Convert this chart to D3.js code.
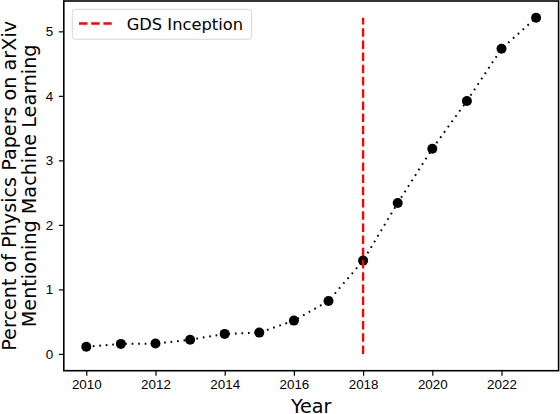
<!DOCTYPE html>
<html>
<head>
<meta charset="utf-8">
<script src="https://cdn.jsdelivr.net/npm/d3@7"></script>
<style>
  body { margin: 0; background: #fff; }
  svg { display: block; font-family: "DejaVu Sans", sans-serif; }
  .tick text { font-size: 13.4px; fill: #000; }
  .tick line { stroke: #000; stroke-width: 1.2; }
</style>
</head>
<body>
<script>
var w = 560;
var h = 414;

// values
var years = [2010, 2011, 2012, 2013, 2014, 2015, 2016, 2017, 2018, 2019, 2020, 2021, 2022, 2023];
var percent = [0.11, 0.155, 0.16, 0.22, 0.31, 0.33, 0.516, 0.82, 1.446, 2.34, 3.18, 3.92, 4.73, 5.21];
var inceptionYear = 2018;
var xTicks = [2010, 2012, 2014, 2016, 2018, 2020, 2022];
var yTicks = [0, 1, 2, 3, 4, 5];

var plot = { left: 63.8, right: 558.6, top: 1, bottom: 370.7 };

var svg = d3.select('body').append('svg')
            .attr('width', w)
            .attr('height', h);

// matplotlib style 5% margins
var xPad = (d3.max(years) - d3.min(years)) * 0.05;
var yMax = d3.max(percent);
var yPad = (yMax - 0) * 0.05;

var x = d3.scaleLinear()
          .domain([d3.min(years) - xPad, d3.max(years) + xPad])
          .range([plot.left, plot.right]);
var y = d3.scaleLinear()
          .domain([0 - yPad, yMax + yPad])
          .range([plot.bottom, plot.top]);

var xAxis = d3.axisBottom(x)
              .tickValues(xTicks)
              .tickFormat(d3.format('d'))
              .tickSize(5)
              .tickPadding(4);
var yAxis = d3.axisLeft(y)
              .tickValues(yTicks)
              .tickFormat(d3.format('d'))
              .tickSize(5)
              .tickPadding(5.5);

svg.append('g')
    .attr('transform', 'translate(0,' + plot.bottom + ')')
    .call(xAxis)
    .call(function(g){ g.select('.domain').remove(); })
    .selectAll('text').attr('font-family', null).attr('font-size', null);

svg.append('g')
    .attr('transform', 'translate(' + plot.left + ',0)')
    .call(yAxis)
    .call(function(g){ g.select('.domain').remove(); })
    .selectAll('text').attr('font-family', null).attr('font-size', null);

// data line + points
var pts = years.map(function(d, i){ return [d, percent[i]]; });
var line = d3.line()
             .x(function(d){ return x(d[0]); })
             .y(function(d){ return y(d[1]); });

svg.append('path')
    .datum(pts)
    .attr('d', line)
    .attr('fill', 'none')
    .attr('stroke', '#000')
    .attr('stroke-width', 2)
    .attr('stroke-dasharray', '1.7 4.8');

svg.selectAll('.pt')
    .data(pts)
    .enter()
      .append('circle')
      .classed('pt', true)
      .attr('cx', function(d){ return x(d[0]); })
      .attr('cy', function(d){ return y(d[1]); })
      .attr('r', 5)
      .attr('fill', '#000');

// inception line, drawn from bottom up so the dash starts at 0
svg.append('line')
    .attr('x1', x(inceptionYear))
    .attr('x2', x(inceptionYear))
    .attr('y1', y(0))
    .attr('y2', y(yMax))
    .attr('stroke', 'red')
    .attr('stroke-width', 2.3)
    .attr('stroke-dasharray', '8.5 3.7');

// spines
svg.append('rect')
    .attr('x', plot.left)
    .attr('y', plot.top)
    .attr('width', plot.right - plot.left)
    .attr('height', plot.bottom - plot.top)
    .attr('fill', 'none')
    .attr('stroke', '#000')
    .attr('stroke-width', 1.6);

// legend
var legend = svg.append('g');
legend.append('rect')
    .attr('x', 72.3)
    .attr('y', 9.3)
    .attr('width', 179.4)
    .attr('height', 30)
    .attr('rx', 3)
    .attr('fill', 'rgba(255,255,255,0.8)')
    .attr('stroke', '#d6d6d6')
    .attr('stroke-width', 1);
legend.append('line')
    .attr('x1', 79)
    .attr('x2', 111.7)
    .attr('y1', 23.5)
    .attr('y2', 23.5)
    .attr('stroke', 'red')
    .attr('stroke-width', 2.3)
    .attr('stroke-dasharray', '8.5 3.7');
legend.append('text')
    .attr('x', 126.7)
    .attr('y', 29.5)
    .style('font-size', '16.3px')
    .text('GDS Inception');

// axis labels
svg.append('text')
    .attr('x', (plot.left + plot.right) / 2)
    .attr('y', 413)
    .attr('text-anchor', 'middle')
    .style('font-size', '19.2px')
    .text('Year');

var ylab = svg.append('text')
    .attr('transform', 'translate(0,' + ((plot.top + plot.bottom) / 2) + ') rotate(-90)')
    .attr('text-anchor', 'middle')
    .style('font-size', '19.2px');
ylab.append('tspan').attr('x', 0).attr('y', 15.5).text('Percent of Physics Papers on arXiv');
ylab.append('tspan').attr('x', 0).attr('y', 36).text('Mentioning Machine Learning');
</script>
</body>
</html>
